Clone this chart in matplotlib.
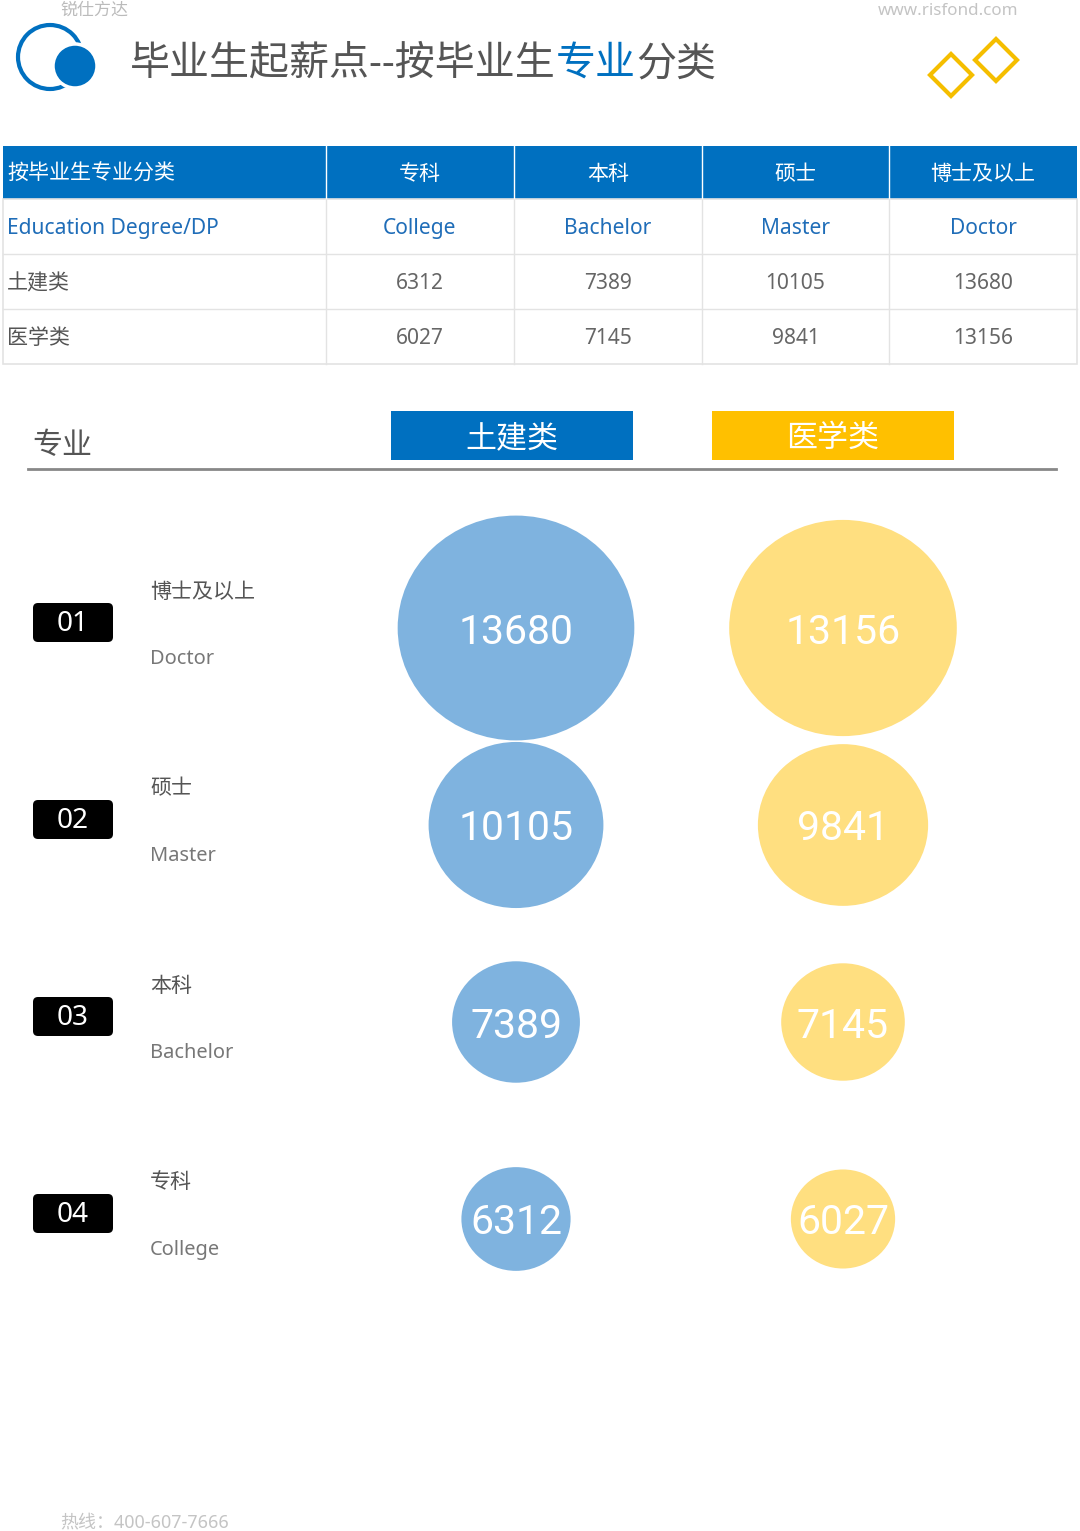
import matplotlib
matplotlib.use("Agg")
import matplotlib.pyplot as plt
from matplotlib.patches import Ellipse, Circle, Rectangle, FancyBboxPatch, Polygon

plt.rcParams['font.family'] = ['Noto Sans', 'Noto Sans CJK SC', 'DejaVu Sans']

# data
majors = ["土建类", "医学类"]
degrees_cn = ["专科", "本科", "硕士", "博士及以上"]
degrees_en = ["College", "Bachelor", "Master", "Doctor"]
civil = [6312, 7389, 10105, 13680]
medical = [6027, 7145, 9841, 13156]
table_head = ["按毕业生专业分类", "专科", "本科", "硕士", "博士及以上"]
table_sub = ["Education Degree/DP", "College", "Bachelor", "Master", "Doctor"]

BLUE = "#0070C0"
LIGHT_BLUE = "#7FB3DF"
YELLOW = "#FFC000"
LIGHT_YELLOW = "#FFDF80"
DARK = "#555555"
GRID = "#E3E3E3"

W, H = 1080, 1531
fig = plt.figure(figsize=(W / 100, H / 100), dpi=100)
ax = fig.add_axes([0, 0, 1, 1])
ax.set_xlim(0, W)
ax.set_ylim(H, 0)
ax.axis("off")


def pt(px):
    return px * 0.72


# header
ax.text(60, 11, "锐仕方达", fontsize=pt(17), color="#BBBBBB", va="center")
ax.text(1018, 11, "www.risfond.com", fontsize=pt(17), color="#C4C4C4", va="center", ha="right")
ax.add_patch(Circle((50, 57), 32, fill=False, ec=BLUE, lw=3))
ax.add_patch(Circle((75, 66), 22, fc=BLUE, ec="white", lw=2.5))
for cx, cy in [(951, 75), (996, 60)]:
    d = 21
    ax.add_patch(Polygon([(cx - d, cy), (cx, cy - d), (cx + d, cy), (cx, cy + d)],
                         closed=True, fill=False, ec="#F5BE00", lw=3))

# title in three pieces so 专业 can be blue
fig.canvas.draw()
renderer = fig.canvas.get_renderer()
x = 130
for part, col in [("毕业生起薪点--按毕业生", DARK), ("专业", BLUE), ("分类", DARK)]:
    t = ax.text(x, 65, part, fontsize=pt(40), color=col, va="center")
    bb = t.get_window_extent(renderer)
    x += bb.width

# table
col_edges = [3, 326, 514, 702, 889, 1077]
row_edges = [146, 199, 254, 309, 364]
ax.add_patch(Rectangle((col_edges[0], row_edges[0]), col_edges[-1] - col_edges[0],
                       row_edges[1] - row_edges[0], fc=BLUE, ec="none"))
ax.add_patch(Rectangle((col_edges[0], row_edges[1]), col_edges[-1] - col_edges[0],
                       row_edges[-1] - row_edges[1], fc="none", ec=GRID, lw=1.2))
for ye in row_edges[2:-1]:
    ax.plot([col_edges[0], col_edges[-1]], [ye, ye], color=GRID, lw=1)
for xe in col_edges[1:-1]:
    ax.plot([xe, xe], [row_edges[0], row_edges[1]], color="white", lw=1)
    ax.plot([xe, xe], [row_edges[1], row_edges[-1]], color=GRID, lw=1)

rows = [
    (table_head, "white"),
    (table_sub, "#1F6DB8"),
    (["土建类"] + [str(v) for v in civil], "#666666"),
    (["医学类"] + [str(v) for v in medical], "#666666"),
]
for r, (cells, col) in enumerate(rows):
    yc = (row_edges[r] + row_edges[r + 1]) / 2 + 2
    for c, txt in enumerate(cells):
        if c == 0:
            ax.text(col_edges[0] + 4, yc, txt, fontsize=pt(21), color=col if r < 2 else DARK,
                    va="center", ha="left")
        else:
            xc = (col_edges[c] + col_edges[c + 1]) / 2
            ax.text(xc, yc, txt, fontsize=pt(21), color=col, va="center", ha="center")

# section header
ax.text(32, 446, "专业", fontsize=pt(30), color=DARK, va="center")
ax.plot([28, 1056], [469, 469], color="#888888", lw=2)
legend_x = [391, 712]
legend_c = [BLUE, YELLOW]
for lx, lc, name in zip(legend_x, legend_c, majors):
    ax.add_patch(Rectangle((lx, 411), 242, 49, fc=lc, ec="none"))
    ax.text(lx + 121, 439, name, fontsize=pt(31), color="white", va="center", ha="center")

# bubble rows, highest degree first
row_y0, row_step = 628, 197
col_x = [516, 843]
col_fill = [LIGHT_BLUE, LIGHT_YELLOW]
scale = 0.00865  # radius px per yuan
for i, k in enumerate(range(len(degrees_cn) - 1, -1, -1)):
    yc = row_y0 + row_step * i
    ax.add_patch(FancyBboxPatch((33, yc - 25), 80, 39,
                                boxstyle="round,pad=0,rounding_size=5", fc="black", ec="none"))
    ax.text(73, yc - 4, f"{i + 1:02d}", fontsize=pt(28), color="white", va="center", ha="center")
    ax.text(150, yc - 36, degrees_cn[k], fontsize=pt(21), color=DARK, va="center")
    ax.text(150, yc + 31, degrees_en[k], fontsize=pt(20), color="#777777", va="center")
    for cx, fc, vals in zip(col_x, col_fill, [civil, medical]):
        r = vals[k] * scale
        ax.add_patch(Ellipse((cx, yc), 2 * r, 2 * r * 0.95, fc=fc, ec="none"))
        ax.text(cx, yc + 4, str(vals[k]), fontsize=pt(41), color="white", va="center",
                ha="center", family=["Roboto", "DejaVu Sans"])

# footer
ax.text(60, 1522, "热线：400-607-7666", fontsize=pt(18), color="#C4C4C4", va="center")

fig.savefig("out.png", dpi=100, facecolor="white")
